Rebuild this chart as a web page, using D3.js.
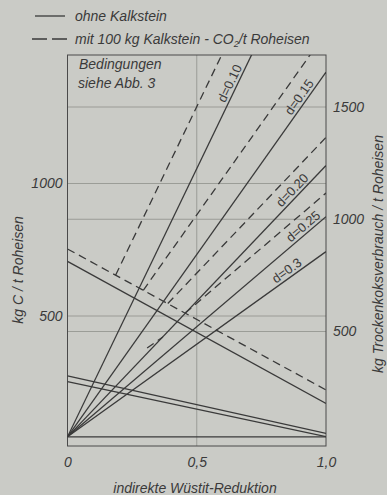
<!DOCTYPE html>
<html>
<head>
<meta charset="utf-8">
<script src="https://cdn.jsdelivr.net/npm/d3@7/dist/d3.min.js"></script>
<style>
  html, body { margin: 0; padding: 0; background: #cacbc6; }
  svg { display: block; }
  text { font-family: "Liberation Sans", Arial, sans-serif; fill: #3a3a3a; }
</style>
</head>
<body>
<div id="chart"></div>
<script>
// x: indirekte Wüstit-Reduktion, y: kg C / t Roheisen  -> [x0, y0, x1, y1]
const fanLabels = ['d=0.10', 'd=0.15', 'd=0.20', 'd=0.25', 'd=0.3'];
const fanOhne = [
  [0, 44, 1, 2068],
  [0, 44, 1, 1420],
  [0, 44, 1, 1068],
  [0, 44, 1, 875],
  [0, 44, 1, 743]
];
const fanMit = [
  [0.186, 654, 1, 2302],
  [0.293, 597, 1, 1570],
  [0.388, 547, 1, 1174],
  [0.455, 511, 1, 964],
  [0.308, 379, 0.369, 421]
];
const fallOhne = [
  [0, 706, 1, 170],
  [0, 274, 1, 57],
  [0, 252, 1, 45],
  [0, 44, 1, 44]
];
const fallMit = [
  [0, 753, 1, 221]
];
const labelAt = [0.653, 0.92, 0.89, 0.93, 0.865];

const xTicks = [0, 0.5, 1];
const leftTicks = [500, 1000];
const rightTicks = [500, 1000, 1500];

const W = 387, H = 495;
const plot = { left: 67.5, right: 326, top: 55, bottom: 446 };
const ink = '#3a3a3a';

const svg = d3.select('#chart').append('svg')
  .attr('width', W).attr('height', H);

svg.append('rect').attr('width', W).attr('height', H).attr('fill', '#cacbc6');

const x = d3.scaleLinear().domain([0, 1]).range([plot.left, plot.right]);
const yL = d3.scaleLinear().domain([0, 1000]).range([448.5, 183.5]);
const yR = d3.scaleLinear().domain([500, 1500]).range([331.5, 107]);

svg.append('clipPath').attr('id', 'clip')
  .append('rect')
  .attr('x', plot.left).attr('y', plot.top)
  .attr('width', plot.right - plot.left).attr('height', plot.bottom - plot.top);

// grid
const grid = svg.append('g').attr('stroke', '#8f918c').attr('stroke-width', 0.8);
grid.selectAll('.hl').data(leftTicks).enter().append('line')
  .attr('x1', plot.left).attr('x2', plot.right)
  .attr('y1', d => yL(d)).attr('y2', d => yL(d));
grid.selectAll('.hr').data(rightTicks).enter().append('line')
  .attr('x1', plot.left).attr('x2', plot.right)
  .attr('y1', d => yR(d)).attr('y2', d => yR(d));
grid.append('line')
  .attr('x1', x(0.5)).attr('x2', x(0.5))
  .attr('y1', plot.top).attr('y2', plot.bottom);

// frame
svg.append('rect')
  .attr('x', plot.left).attr('y', plot.top)
  .attr('width', plot.right - plot.left).attr('height', plot.bottom - plot.top)
  .attr('fill', 'none').attr('stroke', '#4a4a4a').attr('stroke-width', 1);

// data lines
const lines = svg.append('g').attr('clip-path', 'url(#clip)')
  .attr('fill', 'none').attr('stroke', ink).attr('stroke-width', 1.3);

function drawSeg(data, dash) {
  lines.append('g').selectAll('line').data(data).enter().append('line')
    .attr('x1', d => x(d[0])).attr('y1', d => yL(d[1]))
    .attr('x2', d => x(d[2])).attr('y2', d => yL(d[3]))
    .attr('stroke-dasharray', dash);
}
drawSeg(fanOhne, null);
drawSeg(fallOhne, null);
drawSeg(fanMit, '8,5');
drawSeg(fallMit, '8,5');

// d labels along the solid fan lines
fanOhne.forEach((d, i) => {
  const t = labelAt[i];
  const px = x(t);
  const py = yL(d[1] + (d[3] - d[1]) * (t - d[0]) / (d[2] - d[0]));
  const ang = Math.atan2(yL(d[3]) - yL(d[1]), x(d[2]) - x(d[0])) * 180 / Math.PI;
  svg.append('text')
    .attr('transform', `translate(${px},${py}) rotate(${ang})`)
    .attr('text-anchor', 'middle')
    .attr('dy', -3)
    .attr('font-size', '13px')
    .text(fanLabels[i]);
});

// axes
const fmt = d => d === 0 ? '0' : d3.format('.1f')(d).replace('.', ',');

const axB = svg.append('g')
  .attr('transform', `translate(0,${plot.bottom})`)
  .call(d3.axisBottom(x).tickValues(xTicks).tickFormat(fmt).tickSize(0).tickPadding(11));

const axL = svg.append('g')
  .attr('transform', `translate(${plot.left},0)`)
  .call(d3.axisLeft(yL).tickValues(leftTicks).tickFormat(d3.format('d')).tickSize(0).tickPadding(5));

const axR = svg.append('g')
  .attr('transform', `translate(${plot.right},0)`)
  .call(d3.axisRight(yR).tickValues(rightTicks).tickFormat(d3.format('d')).tickSize(0).tickPadding(7));

[axB, axL, axR].forEach(a => {
  a.select('.domain').remove();
  a.selectAll('text')
    .attr('fill', ink)
    .attr('font-size', '14px')
    .attr('font-style', 'italic')
    .attr('font-family', '"Liberation Sans", Arial, sans-serif');
});

// titles
svg.append('text')
  .attr('x', 195).attr('y', 493)
  .attr('text-anchor', 'middle')
  .attr('font-size', '14px').attr('font-style', 'italic')
  .text('indirekte Wüstit-Reduktion');

svg.append('text')
  .attr('transform', 'translate(23,270) rotate(-90)')
  .attr('text-anchor', 'middle')
  .attr('font-size', '14px').attr('font-style', 'italic')
  .text('kg C / t Roheisen');

svg.append('text')
  .attr('transform', 'translate(383,254) rotate(-90)')
  .attr('text-anchor', 'middle')
  .attr('font-size', '14px').attr('font-style', 'italic')
  .text('kg Trockenkoksverbrauch / t Roheisen');

// conditions note
const note = svg.append('text')
  .attr('font-size', '14px').attr('font-style', 'italic');
note.append('tspan').attr('x', 79).attr('y', 69).text('Bedingungen');
note.append('tspan').attr('x', 78).attr('y', 88).text('siehe  Abb. 3');

// legend
const legend = svg.append('g');
legend.append('line')
  .attr('x1', 35).attr('x2', 65).attr('y1', 16).attr('y2', 16)
  .attr('stroke', ink).attr('stroke-width', 1.3);
legend.append('line')
  .attr('x1', 32).attr('x2', 67).attr('y1', 39).attr('y2', 39)
  .attr('stroke', ink).attr('stroke-width', 1.3)
  .attr('stroke-dasharray', '15,5');
legend.append('text')
  .attr('x', 75).attr('y', 21)
  .attr('font-size', '14px').attr('font-style', 'italic')
  .text('ohne Kalkstein');
const t2 = legend.append('text')
  .attr('x', 75).attr('y', 44)
  .attr('font-size', '14px').attr('font-style', 'italic');
t2.append('tspan').text('mit 100 kg Kalkstein - CO');
t2.append('tspan').attr('font-size', '9px').attr('dy', 3).text('2');
t2.append('tspan').attr('dy', -3).text('/t Roheisen');
</script>
</body>
</html>
